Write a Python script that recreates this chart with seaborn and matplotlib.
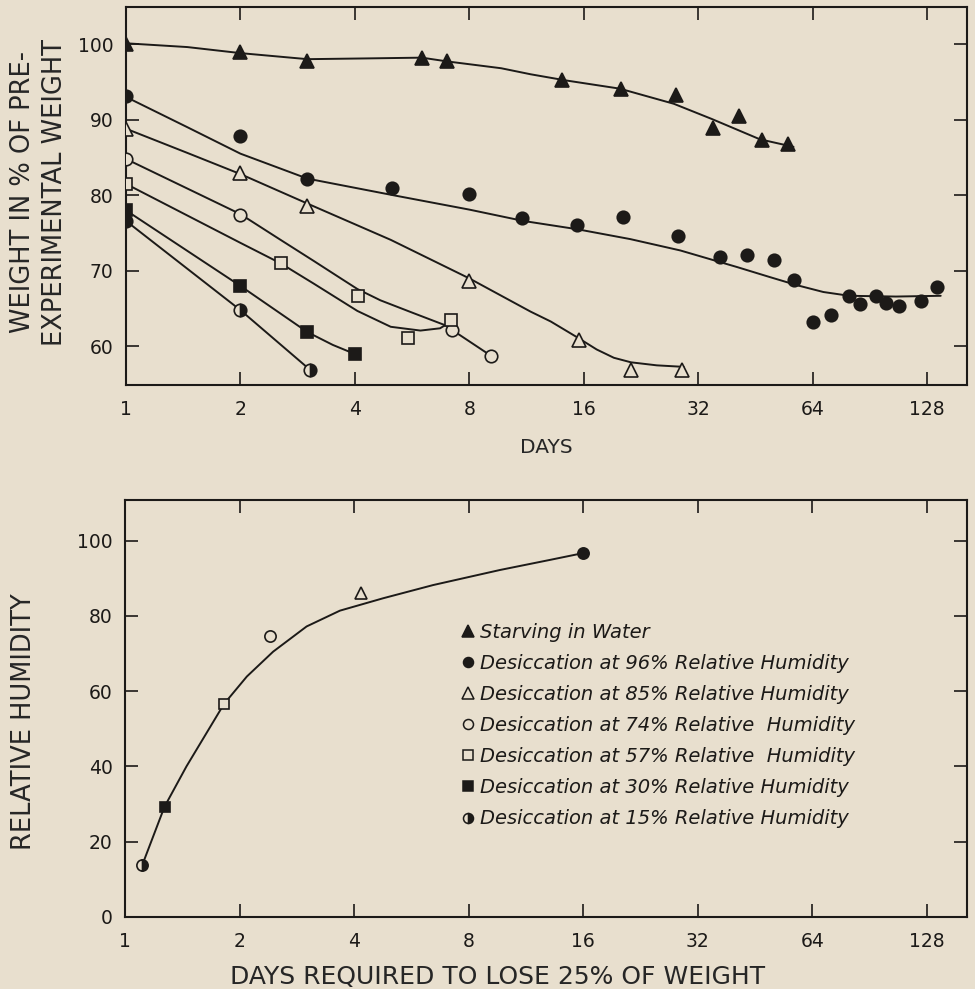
import matplotlib
matplotlib.use("Agg")
import matplotlib.pyplot as plt
from matplotlib.lines import Line2D
import seaborn as sns

# ---------------- data ----------------
# Top panel: measured points
starv_x = [1, 2, 3, 6, 7, 14, 20, 28, 35, 41, 47, 55]
starv_y = [100.0, 99.0, 97.8, 98.2, 97.7, 95.2, 94.0, 93.2, 88.9, 90.5, 87.3, 86.8]
rh96_x = [1, 2, 3, 5, 8, 11, 15.4, 20.3, 28.3, 36.6, 43, 50.5, 57, 64.3, 71.4, 80, 85, 94, 100, 108, 123, 136]
rh96_y = [93.1, 87.9, 82.1, 81.0, 80.1, 77.0, 76.0, 77.1, 74.6, 71.8, 72.1, 71.4, 68.8, 63.2, 64.2, 66.7,
          65.6, 66.7, 65.8, 65.3, 66.0, 67.8]
rh85_x = [1, 2, 3, 8, 15.5, 21.3, 29]
rh85_y = [88.8, 82.9, 78.6, 68.7, 60.8, 56.9, 56.9]
rh74_x = [1, 2, 7.2, 9.1]
rh74_y = [84.8, 77.4, 62.2, 58.8]
rh57_x = [1, 2.55, 4.08, 5.51, 7.17]
rh57_y = [81.5, 71.0, 66.7, 61.1, 63.5]
rh30_x = [1, 2, 3, 4]
rh30_y = [78.0, 68.0, 61.9, 59.0]
rh15_x = [1, 2, 3.05]
rh15_y = [76.6, 64.8, 56.9]

# Top panel: hand-drawn fitted curves
starv_cx = [1, 1.45, 2, 3, 4.3, 6, 7, 9.7, 11.6, 14.3, 19.9, 27.6, 34.7, 46.5, 57]
starv_cy = [100.1, 99.6, 98.8, 98.0, 98.1, 98.2, 97.7, 96.8, 96.0, 95.2, 94.1, 92.1, 90.1, 87.4, 86.4]
rh96_cx = [1, 1.45, 2, 3, 5.05, 8, 11.1, 15.4, 21.2, 28.7, 40.5, 49.2, 58.2, 68.3, 79.9, 106, 139]
rh96_cy = [93.0, 89.0, 85.5, 82.2, 80.0, 78.1, 76.6, 75.5, 74.2, 72.7, 70.5, 69.2, 68.1, 67.2, 66.7, 66.6, 66.7]
rh85_cx = [1, 1.45, 2, 3, 4.97, 8, 11.6, 13.1, 15.5, 17.3, 19.2, 21.3, 24.9, 29.3]
rh85_cy = [88.8, 85.6, 82.8, 78.9, 74.1, 69.0, 64.6, 63.3, 61.1, 59.6, 58.5, 57.9, 57.5, 57.3]
rh74_cx = [1, 2, 2.55, 3.12, 3.7, 4.06, 4.67, 5.71, 7.0, 7.2, 9.1]
rh74_cy = [84.8, 77.5, 74.1, 71.3, 68.9, 67.6, 66.1, 64.4, 62.7, 62.2, 58.8]
rh57_cx = [1, 2, 2.55, 3.12, 4.06, 4.97, 5.95, 6.7, 7.17]
rh57_cy = [81.5, 73.7, 71.0, 68.3, 64.7, 62.6, 62.1, 62.4, 63.3]
rh30_cx = [1, 2, 3, 3.5, 4]
rh30_cy = [78.0, 68.0, 61.9, 60.2, 59.0]
rh15_cx = [1, 2, 3.05]
rh15_cy = [76.6, 64.8, 56.9]

# Bottom panel: days to lose 25% weight vs relative humidity
rh_days = [16, 4.17, 2.41, 1.82, 1.27, 1.11]
rh_vals = [96.7, 86.2, 74.7, 56.6, 29.3, 13.8]
rh_cx = [1.11, 1.27, 1.45, 1.82, 2.09, 2.45, 3.0, 3.67, 4.77, 6.45, 9.66, 13.1, 16]
rh_cy = [13.8, 29.3, 40.0, 56.6, 63.9, 70.5, 77.2, 81.4, 84.7, 88.2, 92.2, 94.9, 96.7]

x_ticks = [1, 2, 4, 8, 16, 32, 64, 128]
x_tick_labels = ["1", "2", "4", "8", "16", "32", "64", "128"]
top_y_ticks = [60, 70, 80, 90, 100]
bot_y_ticks = [0, 20, 40, 60, 80, 100]

legend_labels = [
    "Starving in Water",
    "Desiccation at 96% Relative Humidity",
    "Desiccation at 85% Relative Humidity",
    "Desiccation at 74% Relative  Humidity",
    "Desiccation at 57% Relative  Humidity",
    "Desiccation at 30% Relative Humidity",
    "Desiccation at 15% Relative Humidity",
]

# ---------------- style ----------------
BG = "#E8DFCE"
INK = "#1c1a18"
sns.set_style("ticks")
plt.rcParams["font.family"] = ["DejaVu Sans"]
plt.rcParams["axes.edgecolor"] = INK
plt.rcParams["text.color"] = INK
plt.rcParams["xtick.color"] = INK
plt.rcParams["ytick.color"] = INK

# marker styles: (marker, facecolor, fillstyle, size)
styles = {
    "starv": ("^", INK, "full", 10),
    "rh96": ("o", INK, "full", 9),
    "rh85": ("^", BG, "full", 10),
    "rh74": ("o", BG, "full", 9),
    "rh57": ("s", BG, "full", 8.5),
    "rh30": ("s", INK, "full", 8.5),
    "rh15": ("o", INK, "right", 9),
}

fig = plt.figure(figsize=(9.75, 9.89), dpi=100, facecolor=BG)
ax1 = fig.add_axes([126 / 975, 1 - 385 / 989, 841 / 975, 378 / 989], facecolor=BG)
ax2 = fig.add_axes([125 / 975, 1 - 917 / 989, 842 / 975, 417 / 989], facecolor=BG)


def draw_points(ax, xs, ys, key, ms_scale=1.0):
    m, fc, fs, ms = styles[key]
    sns.lineplot(x=xs, y=ys, ax=ax, sort=False, estimator=None, linestyle="",
                 marker=m, markersize=ms * ms_scale, markerfacecolor=fc,
                 markerfacecoloralt=BG, fillstyle=fs, markeredgecolor=INK,
                 markeredgewidth=1.2, zorder=5)


def draw_curve(ax, xs, ys):
    sns.lineplot(x=xs, y=ys, ax=ax, sort=False, estimator=None, color=INK,
                 linewidth=1.4, zorder=3)


top_series = [
    ("starv", starv_x, starv_y, starv_cx, starv_cy),
    ("rh96", rh96_x, rh96_y, rh96_cx, rh96_cy),
    ("rh85", rh85_x, rh85_y, rh85_cx, rh85_cy),
    ("rh74", rh74_x, rh74_y, rh74_cx, rh74_cy),
    ("rh57", rh57_x, rh57_y, rh57_cx, rh57_cy),
    ("rh30", rh30_x, rh30_y, rh30_cx, rh30_cy),
    ("rh15", rh15_x, rh15_y, rh15_cx, rh15_cy),
]
for key, px, py, cx, cy in top_series:
    draw_curve(ax1, cx, cy)
    draw_points(ax1, px, py, key)

# bottom panel
draw_curve(ax2, rh_cx, rh_cy)
bottom_keys = ["rh96", "rh85", "rh74", "rh57", "rh30", "rh15"]
for i, key in enumerate(bottom_keys):
    draw_points(ax2, [rh_days[i]], [rh_vals[i]], key, ms_scale=0.9)

for ax in (ax1, ax2):
    ax.set_xscale("log", base=2)
    ax.set_xlim(1, 163)
    ax.set_xticks(x_ticks)
    ax.set_xticklabels(x_tick_labels)
    ax.minorticks_off()
    ax.tick_params(direction="in", top=True, right=True, length=9.5, width=1.2,
                   labelsize=13.5)
    ax.tick_params(axis="y", pad=9)
    ax.tick_params(axis="x", pad=11)
    for sp in ax.spines.values():
        sp.set_visible(True)
        sp.set_linewidth(1.5)
        sp.set_color(INK)

ax1.set_ylim(54.9, 104.9)
ax1.set_yticks(top_y_ticks)
ax2.set_ylim(0, 110.8)
ax2.set_yticks(bot_y_ticks)

ax1.set_xlabel("DAYS", fontsize=14.5)
ax1.xaxis.set_label_coords(0.5, -0.14)
ax1.set_ylabel("WEIGHT IN % OF PRE-\nEXPERIMENTAL WEIGHT", fontsize=18.5, linespacing=1.3)
ax1.yaxis.set_label_coords(-0.069, 0.51)

ax2.set_xlabel("DAYS REQUIRED TO LOSE 25% OF WEIGHT", fontsize=18)
ax2.xaxis.set_label_coords(0.443, -0.115)
ax2.set_ylabel("RELATIVE HUMIDITY", fontsize=18.5)
ax2.yaxis.set_label_coords(-0.104, 0.468)

# legend
handles = []
for key in ["starv", "rh96", "rh85", "rh74", "rh57", "rh30", "rh15"]:
    m, fc, fs, ms = styles[key]
    handles.append(Line2D([], [], linestyle="", marker=m, markersize=ms * 0.8,
                          markerfacecolor=fc, markerfacecoloralt=BG, fillstyle=fs,
                          markeredgecolor=INK, markeredgewidth=1.1))
leg = ax2.legend(handles, legend_labels, loc="upper left",
                 bbox_to_anchor=(463 / 975, 1 - 623 / 989), bbox_transform=fig.transFigure,
                 frameon=False, prop={"style": "italic", "size": 14},
                 handlelength=0.5, handletextpad=0.35, labelspacing=0.62,
                 borderpad=0, borderaxespad=0)

fig.savefig("out.png", dpi=100, facecolor=BG)
